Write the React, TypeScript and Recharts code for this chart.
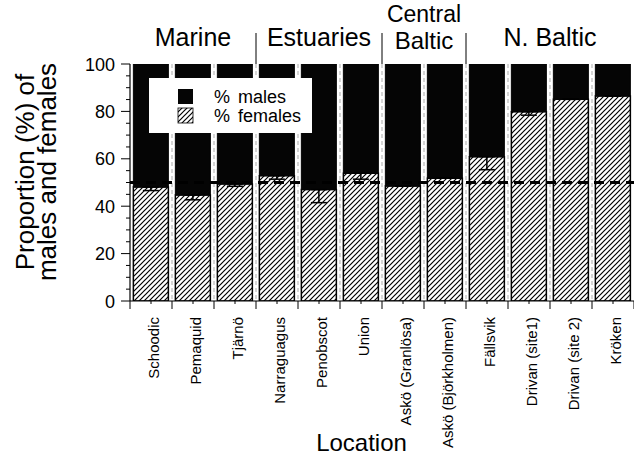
import React from 'react';
import { BarChart, Bar, XAxis, YAxis, ReferenceLine, ErrorBar } from 'recharts';

const categories = ['Schoodic', 'Pemaquid', 'Tjärnö', 'Narraguagus', 'Penobscot', 'Union', 'Askö (Granlösa)', 'Askö (Björkholmen)', 'Fällsvik', 'Drivan (site1)', 'Drivan (site 2)', 'Kröken'];
const femalePct = [48.1, 44.7, 49.4, 52.9, 47.0, 53.9, 48.5, 51.8, 60.9, 79.9, 85.1, 86.5];
const malePct = [51.9, 55.3, 50.6, 47.1, 53.0, 46.1, 51.5, 48.2, 39.1, 20.1, 14.9, 13.5];
const femaleErr = [1.5, 2, 1, 1.5, 5.5, 2.5, 0, 0, 5.5, 1.5, 0, 0];
const regionNames = [['Marine'], ['Estuaries'], ['Central', 'Baltic'], ['N. Baltic']];
const regionSizes = [3, 3, 2, 4];
const yTicks = [0, 5, 10, 15, 20, 25, 30, 35, 40, 45, 50, 55, 60, 65, 70, 75, 80, 85, 90, 95, 100];

const W = 634;
const H = 455;
const PLOT_LEFT = 130;
const PLOT_RIGHT = 634;
const PLOT_TOP = 64;
const PLOT_BOTTOM = 301;
const BAND = (PLOT_RIGHT - PLOT_LEFT) / categories.length;
const FONT = '"Liberation Sans", Arial, Helvetica, sans-serif';

const data = categories.map((name, i) => ({
  name,
  female: femalePct[i],
  male: malePct[i],
  err: [femaleErr[i], 0],
}));

const XTick = (props: any) => {
  const { x, y, payload, index } = props;
  const last = index === categories.length - 1;
  const bx = x + 7.5;
  const ty = y + 16;
  return (
    <g>
      <line x1={x - BAND / 2} y1={y} x2={x - BAND / 2} y2={y + 8} stroke="#000" strokeWidth={1} />
      {last && <line x1={x + BAND / 2} y1={y} x2={x + BAND / 2} y2={y + 8} stroke="#000" strokeWidth={1} />}
      <line x1={x} y1={y} x2={x} y2={y + 3} stroke="#000" strokeWidth={1} />
      <text
        x={bx}
        y={ty}
        transform={`rotate(-90, ${bx}, ${ty})`}
        textAnchor="end"
        fontSize={15}
        fontFamily={FONT}
        fill="#000"
      >
        {payload.value}
      </text>
    </g>
  );
};

const YTick = (props: any) => {
  const { x, y, payload } = props;
  const major = payload.value % 20 === 0;
  return (
    <g>
      <line x1={x - (major ? 9 : 4)} y1={y} x2={x} y2={y} stroke="#000" strokeWidth={1} />
      {major && (
        <text x={x - 15} y={y + 6.5} textAnchor="end" fontSize={18} fontFamily={FONT} fill="#000">
          {payload.value}
        </text>
      )}
    </g>
  );
};

export default function App() {
  let acc = 0;
  const groups = regionSizes.map((n, i) => {
    const start = acc;
    acc += n;
    return { names: regionNames[i], start, end: acc };
  });
  return (
    <div style={{ position: 'absolute', left: 0, top: 0, width: W, height: H, background: '#fff', fontFamily: FONT }}>
      <svg width={0} height={0} style={{ position: 'absolute' }}>
        <defs>
          <pattern id="hatch" patternUnits="userSpaceOnUse" width={5} height={5}>
            <rect width={5} height={5} fill="#fff" />
            <path d="M-1,1 l2,-2 M0,5 l5,-5 M4,6 l2,-2" stroke="#000" strokeWidth={1.2} />
          </pattern>
        </defs>
      </svg>
      <svg width={W} height={H} style={{ position: 'absolute', left: 0, top: 0 }}>
        {categories.slice(1).map((_, i) => (
          <line
            key={i}
            x1={PLOT_LEFT + (i + 1) * BAND}
            x2={PLOT_LEFT + (i + 1) * BAND}
            y1={PLOT_TOP}
            y2={PLOT_BOTTOM}
            stroke="#c8c8c8"
            strokeWidth={1.5}
            strokeDasharray="4 3"
          />
        ))}
      </svg>
      <div style={{ position: 'absolute', left: 0, top: 0 }}>
        <BarChart
          width={W}
          height={H}
          data={data}
          margin={{ top: PLOT_TOP, right: W - PLOT_RIGHT, bottom: 0, left: 0 }}
          barCategoryGap="8%"
        >
          <XAxis
            dataKey="name"
            interval={0}
            height={H - PLOT_BOTTOM}
            tickLine={false}
            tickSize={0}
            tickMargin={0}
            axisLine={{ stroke: '#000', strokeWidth: 1.2 }}
            tick={<XTick />}
          />
          <YAxis
            type="number"
            domain={[0, 100]}
            ticks={yTicks}
            interval={0}
            width={PLOT_LEFT}
            tickLine={false}
            tickSize={0}
            tickMargin={0}
            axisLine={{ stroke: '#000', strokeWidth: 1.2 }}
            tick={<YTick />}
            allowDataOverflow
          />
          <Bar dataKey="female" stackId="a" fill="url(#hatch)" stroke="#000" strokeWidth={1.5} isAnimationActive={false}>
            <ErrorBar dataKey="err" width={8} stroke="#000" strokeWidth={1.5} direction="y" isAnimationActive={false} />
          </Bar>
          <Bar dataKey="male" stackId="a" fill="#050505" stroke="#050505" strokeWidth={1} isAnimationActive={false} />
          <ReferenceLine y={50} stroke="#000" strokeWidth={3} strokeDasharray="10 6" ifOverflow="extendDomain" />
        </BarChart>
      </div>
      <svg width={W} height={H} style={{ position: 'absolute', left: 0, top: 0, pointerEvents: 'none' }}>
        {groups.map((g, i) => {
          const cx = PLOT_LEFT + ((g.start + g.end) / 2) * BAND;
          return (
            <g key={i}>
              {g.names.length === 1 ? (
                <text x={cx} y={46} textAnchor="middle" fontSize={25} fontFamily={FONT} fill="#000">
                  {g.names[0]}
                </text>
              ) : (
                <>
                  <text x={cx} y={22} textAnchor="middle" fontSize={23} fontFamily={FONT} fill="#000">
                    {g.names[0]}
                  </text>
                  <text x={cx} y={48.5} textAnchor="middle" fontSize={24} fontFamily={FONT} fill="#000">
                    {g.names[1]}
                  </text>
                </>
              )}
              {i > 0 && (
                <line
                  x1={PLOT_LEFT + g.start * BAND}
                  x2={PLOT_LEFT + g.start * BAND}
                  y1={33}
                  y2={PLOT_TOP}
                  stroke="#000"
                  strokeWidth={1}
                />
              )}
            </g>
          );
        })}
        <rect x={149} y={78} width={163} height={55} fill="#fff" />
        <rect x={178} y={89} width={15} height={15} fill="#050505" />
        <rect x={178} y={108} width={15} height={15} fill="url(#hatch)" stroke="#000" strokeWidth={0.8} />
        <text x={214} y={103} fontSize={18} fontFamily={FONT} fill="#000">%</text>
        <text x={238} y={103} fontSize={18} fontFamily={FONT} fill="#000">males</text>
        <text x={214} y={122} fontSize={18} fontFamily={FONT} fill="#000">%</text>
        <text x={238} y={122} fontSize={18} fontFamily={FONT} fill="#000">females</text>
        <text transform="translate(34,172) rotate(-90)" textAnchor="middle" fontSize={26} fontFamily={FONT} fill="#000">
          Proportion (%) of
        </text>
        <text transform="translate(56,172) rotate(-90)" textAnchor="middle" fontSize={26} fontFamily={FONT} fill="#000">
          males and females
        </text>
        <text x={361.5} y={451} textAnchor="middle" fontSize={24} fontFamily={FONT} fill="#000">
          Location
        </text>
      </svg>
    </div>
  );
}
